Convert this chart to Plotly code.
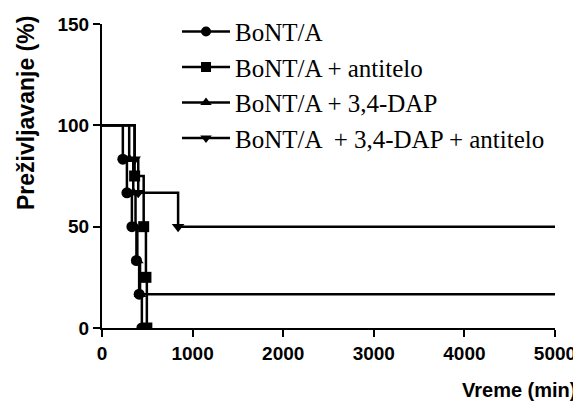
import plotly.graph_objects as go

# Kaplan-Meier style survival data (time in min, survival in %)
legend_labels = ["BoNT/A", "BoNT/A + antitelo", "BoNT/A + 3,4-DAP", "BoNT/A  + 3,4-DAP + antitelo"]
symbols = ["circle", "square", "triangle-up", "triangle-down"]

bont_t = [230, 275, 330, 380, 410, 440]
bont_s = [83.3, 66.7, 50, 33.3, 16.7, 0]

anti_t = [360, 460, 485, 495]
anti_s = [75, 50, 25, 0]

dap_t = [300, 345, 370, 390, 420]
dap_s = [83.3, 66.7, 50, 33.3, 16.7]

dapanti_t = [360, 400, 840]
dapanti_s = [83.3, 66.7, 50]

end_time = 5000
x_ticks = [0, 1000, 2000, 3000, 4000, 5000]
y_ticks = [0, 50, 100, 150]

groups = [
    (bont_t, bont_s),
    (anti_t, anti_s),
    (dap_t, dap_s),
    (dapanti_t, dapanti_s),
]

fig = go.Figure()
for i, (t, s) in enumerate(groups):
    xs = [0] + t
    ys = [100] + s
    if s[-1] > 0:
        xs = xs + [end_time]
        ys = ys + [s[-1]]
    fig.add_trace(go.Scatter(x=xs, y=ys, mode="lines", line=dict(color="black", width=2.5, shape="hv"),
                             showlegend=False, hoverinfo="skip"))
    fig.add_trace(go.Scatter(x=t, y=s, mode="markers",
                             marker=dict(symbol=symbols[i], size=11, color="black"),
                             showlegend=False))

for i in range(4):
    fig.add_trace(go.Scatter(x=[None], y=[None], mode="lines+markers", name=legend_labels[i],
                             legendgroup="g%d" % i,
                             line=dict(color="black", width=2.5),
                             marker=dict(symbol=symbols[i], size=10, color="black")))

tick_font = dict(family="Liberation Sans, Arial", size=19, color="black", weight="bold")
fig.update_layout(
    width=573, height=403,
    margin=dict(l=94, r=26, t=16, b=83, autoexpand=False),
    paper_bgcolor="white", plot_bgcolor="white",
    showlegend=True,
    legend=dict(x=0.1656, y=1.05, xanchor="left", yanchor="top",
                font=dict(family="Liberation Serif, Times New Roman", size=25, color="black"),
                bgcolor="rgba(0,0,0,0)", tracegroupgap=0, itemwidth=48),
    xaxis=dict(range=[0, 5000], tickvals=x_ticks, ticktext=[str(v) for v in x_ticks],
               showgrid=False, zeroline=False, showline=True, linecolor="black", linewidth=2,
               ticks="outside", ticklen=7, tickwidth=2, tickcolor="black", tickfont=tick_font),
    yaxis=dict(range=[0, 150], tickvals=y_ticks, ticktext=[str(v) for v in y_ticks],
               showgrid=False, zeroline=False, showline=True, linecolor="black", linewidth=2,
               ticks="outside", ticklen=7, tickwidth=2, tickcolor="black", tickfont=tick_font),
    annotations=[
        dict(text="<b>Preživljavanje (%)</b>", xref="paper", yref="paper", x=-0.168, y=0.707,
             xanchor="center", yanchor="middle", textangle=-90, showarrow=False,
             font=dict(family="Liberation Sans, Arial", size=23, color="black")),
        dict(text="<b>Vreme (min)</b>", xref="paper", yref="paper", x=1.051, y=-0.204,
             xanchor="right", yanchor="middle", showarrow=False,
             font=dict(family="Liberation Sans, Arial", size=20, color="black")),
    ],
)

fig.write_html("out.html")
